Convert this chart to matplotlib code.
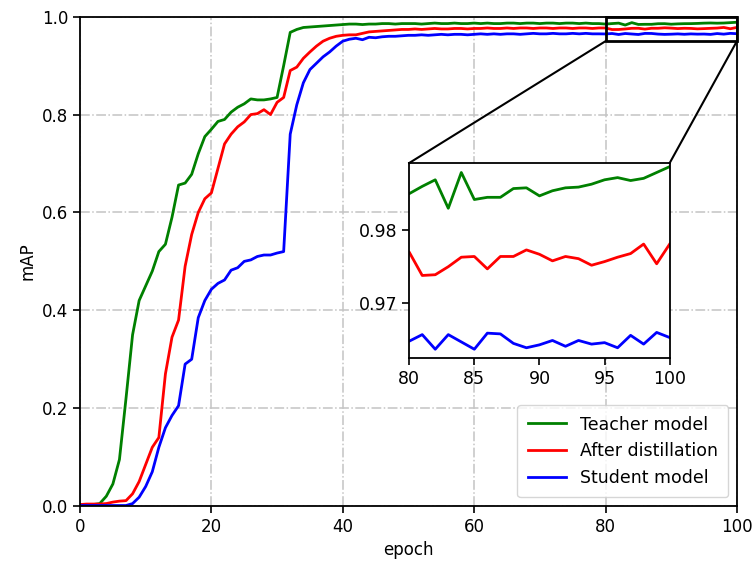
import numpy as np
import matplotlib
matplotlib.use('Agg')
import matplotlib.pyplot as plt
from matplotlib.patches import Rectangle

# mAP per epoch
epochs = np.arange(0, 101)

teacher = [
    0.003, 0.003, 0.003, 0.005, 0.020, 0.045, 0.095, 0.220, 0.350, 0.420,
    0.450, 0.480, 0.520, 0.535, 0.590, 0.656, 0.660, 0.678, 0.720, 0.755,
    0.770, 0.786, 0.790, 0.805, 0.815, 0.822, 0.832, 0.830, 0.830, 0.832,
    0.835, 0.900, 0.968, 0.974, 0.978, 0.979, 0.980, 0.981, 0.982, 0.983,
    0.984, 0.985, 0.985, 0.984, 0.985, 0.985, 0.986, 0.986, 0.985, 0.986,
    0.986, 0.986, 0.985, 0.986, 0.987, 0.986, 0.986, 0.987, 0.986, 0.986,
    0.987, 0.986, 0.987, 0.986, 0.986, 0.987, 0.987, 0.986, 0.987, 0.987,
    0.986, 0.987, 0.987, 0.986, 0.987, 0.987, 0.986, 0.987, 0.986, 0.986,
    0.9850, 0.9860, 0.9869, 0.9830, 0.9879, 0.9842, 0.9845, 0.9845, 0.9857, 0.9858,
    0.9847, 0.9854, 0.9858, 0.9859, 0.9863, 0.9869, 0.9872, 0.9868, 0.9871, 0.9879,
    0.9887,
]

distilled = [
    0.003, 0.004, 0.004, 0.004, 0.005, 0.008, 0.010, 0.011, 0.025, 0.050,
    0.085, 0.120, 0.140, 0.270, 0.345, 0.380, 0.490, 0.555, 0.600, 0.628,
    0.640, 0.690, 0.740, 0.760, 0.775, 0.785, 0.800, 0.802, 0.810, 0.800,
    0.825, 0.835, 0.890, 0.897, 0.915, 0.928, 0.940, 0.950, 0.956, 0.960,
    0.962, 0.963, 0.963, 0.966, 0.969, 0.970, 0.971, 0.972, 0.973, 0.974,
    0.974, 0.975, 0.974, 0.975, 0.976, 0.975, 0.975, 0.976, 0.976, 0.975,
    0.976, 0.976, 0.977, 0.976, 0.976, 0.977, 0.976, 0.977, 0.977, 0.976,
    0.977, 0.977, 0.976, 0.977, 0.977, 0.976, 0.977, 0.977, 0.976, 0.977,
    0.9770, 0.9738, 0.9739, 0.9750, 0.9763, 0.9764, 0.9747, 0.9764, 0.9764, 0.9773,
    0.9767, 0.9758, 0.9764, 0.9761, 0.9752, 0.9757, 0.9763, 0.9768, 0.9781, 0.9754,
    0.9781,
]

student = [
    0.001, 0.001, 0.001, 0.001, 0.001, 0.001, 0.001, 0.001, 0.005, 0.018,
    0.040, 0.070, 0.120, 0.160, 0.185, 0.205, 0.290, 0.300, 0.385, 0.420,
    0.443, 0.455, 0.462, 0.482, 0.487, 0.500, 0.503, 0.510, 0.513, 0.513,
    0.517, 0.520, 0.760, 0.820, 0.865, 0.892, 0.905, 0.918, 0.928, 0.940,
    0.950, 0.954, 0.956, 0.953, 0.958, 0.957, 0.959, 0.960, 0.960, 0.961,
    0.962, 0.962, 0.963, 0.962, 0.963, 0.964, 0.963, 0.964, 0.964, 0.963,
    0.964, 0.965, 0.964, 0.965, 0.964, 0.965, 0.965, 0.964, 0.965, 0.966,
    0.965, 0.965, 0.966, 0.965, 0.965, 0.966, 0.965, 0.966, 0.965, 0.965,
    0.9648, 0.9657, 0.9637, 0.9657, 0.9647, 0.9637, 0.9659, 0.9658, 0.9645, 0.9639,
    0.9643, 0.9649, 0.9641, 0.9649, 0.9644, 0.9646, 0.9639, 0.9656, 0.9644, 0.9660,
    0.9653,
]

series = [
    ("Teacher model", teacher, "g"),
    ("After distillation", distilled, "r"),
    ("Student model", student, "b"),
]

# zoom window
ZX = (80, 100)
ZY = (0.95, 1.0)
INSET_YLIM = (0.9625, 0.9892)

fig = plt.figure(figsize=(7.55, 5.65), dpi=100)
ax = fig.add_axes([0.106, 0.1044, 0.870, 0.866])

for label, vals, c in series:
    ax.plot(epochs, vals, color=c, lw=2, label=label)

ax.set_xlim(0, 100)
ax.set_ylim(0, 1.0)
ax.set_xticks([0, 20, 40, 60, 80, 100])
ax.set_yticks([0.0, 0.2, 0.4, 0.6, 0.8, 1.0])
ax.tick_params(labelsize=12, width=1.2, length=5)
ax.grid(True, ls='-.', color='#c4c4c4', lw=1.1)
ax.set_xlabel("epoch", fontsize=12)
ax.set_ylabel("mAP", fontsize=12)
for sp in ax.spines.values():
    sp.set_linewidth(1.3)

ax.legend(loc='lower right', fontsize=12.5, handlelength=2.2,
          borderpad=0.6, labelspacing=0.5)

# rectangle marking the zoomed region
ax.add_patch(Rectangle((ZX[0], ZY[0]), ZX[1] - ZX[0], ZY[1] - ZY[0],
                       fill=False, ec='black', lw=2, zorder=5, clip_on=False))

# inset
axins = fig.add_axes([0.542, 0.3664, 0.345, 0.3451])
for label, vals, c in series:
    axins.plot(epochs, vals, color=c, lw=2)
axins.set_xlim(*ZX)
axins.set_ylim(*INSET_YLIM)
axins.set_xticks([80, 85, 90, 95, 100])
axins.set_yticks([0.97, 0.98])
axins.tick_params(labelsize=12.5, width=1.2, length=5)
for sp in axins.spines.values():
    sp.set_linewidth(1.3)

# connector lines from rectangle to inset corners
fig.canvas.draw()
to_fig = fig.transFigure.inverted()
for xd, corner in ((ZX[0], (0, 1)), (ZX[1], (1, 1))):
    p0 = to_fig.transform(ax.transData.transform((xd, ZY[0])))
    p1 = to_fig.transform(axins.transAxes.transform(corner))
    fig.add_artist(plt.Line2D([p0[0], p1[0]], [p0[1], p1[1]],
                              transform=fig.transFigure, color='black', lw=1.5))

fig.savefig("out.png", dpi=100)
